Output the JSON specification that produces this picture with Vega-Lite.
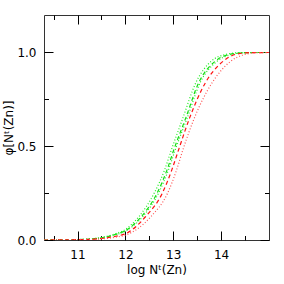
{
  "$schema": "https://vega.github.io/schema/vega-lite/v6.json",
  "width": 225,
  "height": 225,
  "autosize": {"type": "none"},
  "padding": {"left": 44, "top": 15, "right": 15, "bottom": 44},
  "config": {
    "view": {"stroke": "#333333", "strokeWidth": 1},
    "axis": {"domain": false, "grid": false, "ticks": true, "tickWidth": 1, "tickColor": "#000000", "labelColor": "#000000", "titleColor": "#000000", "labelFont": "DejaVu Sans", "titleFont": "DejaVu Sans", "labelFontSize": 12, "titleFontSize": 12, "titleFontWeight": "normal", "labelOverlap": false}
  },
  "data": {"values": [
    {"s":"gdotL","x":10.3,"y":0},{"s":"gdotL","x":10.8,"y":0.001},{"s":"gdotL","x":11.2,"y":0.005},{"s":"gdotL","x":11.5,"y":0.014},{"s":"gdotL","x":11.8,"y":0.034},{"s":"gdotL","x":12.0,"y":0.056},{"s":"gdotL","x":12.28,"y":0.124},{"s":"gdotL","x":12.6,"y":0.249},{"s":"gdotL","x":12.82,"y":0.374},{"s":"gdotL","x":12.96,"y":0.48},{"s":"gdotL","x":13.2,"y":0.65},{"s":"gdotL","x":13.47,"y":0.838},{"s":"gdotL","x":13.8,"y":0.955},{"s":"gdotL","x":14.1,"y":0.99},{"s":"gdotL","x":14.4,"y":0.999},{"s":"gdotL","x":14.7,"y":1},{"s":"gdotL","x":15,"y":1},
    {"s":"gdash","x":10.3,"y":0},{"s":"gdash","x":10.8,"y":0.001},{"s":"gdash","x":11.2,"y":0.004},{"s":"gdash","x":11.5,"y":0.012},{"s":"gdash","x":11.8,"y":0.03},{"s":"gdash","x":12.0,"y":0.05},{"s":"gdash","x":12.33,"y":0.124},{"s":"gdash","x":12.66,"y":0.249},{"s":"gdash","x":12.87,"y":0.374},{"s":"gdash","x":13.01,"y":0.48},{"s":"gdash","x":13.26,"y":0.65},{"s":"gdash","x":13.53,"y":0.838},{"s":"gdash","x":13.86,"y":0.95},{"s":"gdash","x":14.1,"y":0.985},{"s":"gdash","x":14.43,"y":0.998},{"s":"gdash","x":14.7,"y":1},{"s":"gdash","x":15,"y":1},
    {"s":"gdotR","x":10.3,"y":0},{"s":"gdotR","x":10.8,"y":0.001},{"s":"gdotR","x":11.2,"y":0.004},{"s":"gdotR","x":11.5,"y":0.011},{"s":"gdotR","x":11.8,"y":0.028},{"s":"gdotR","x":12.0,"y":0.047},{"s":"gdotR","x":12.36,"y":0.124},{"s":"gdotR","x":12.69,"y":0.249},{"s":"gdotR","x":12.9,"y":0.374},{"s":"gdotR","x":13.04,"y":0.48},{"s":"gdotR","x":13.29,"y":0.65},{"s":"gdotR","x":13.56,"y":0.838},{"s":"gdotR","x":13.9,"y":0.95},{"s":"gdotR","x":14.15,"y":0.985},{"s":"gdotR","x":14.45,"y":0.998},{"s":"gdotR","x":14.7,"y":1},{"s":"gdotR","x":15,"y":1},
    {"s":"rdash","x":10.3,"y":0},{"s":"rdash","x":10.8,"y":0.001},{"s":"rdash","x":11.2,"y":0.003},{"s":"rdash","x":11.5,"y":0.008},{"s":"rdash","x":11.8,"y":0.02},{"s":"rdash","x":12.0,"y":0.033},{"s":"rdash","x":12.42,"y":0.124},{"s":"rdash","x":12.77,"y":0.249},{"s":"rdash","x":12.97,"y":0.374},{"s":"rdash","x":13.11,"y":0.48},{"s":"rdash","x":13.34,"y":0.65},{"s":"rdash","x":13.67,"y":0.838},{"s":"rdash","x":14.04,"y":0.953},{"s":"rdash","x":14.3,"y":0.99},{"s":"rdash","x":14.6,"y":0.999},{"s":"rdash","x":15,"y":1},
    {"s":"rdot","x":10.3,"y":0},{"s":"rdot","x":11.0,"y":0.001},{"s":"rdot","x":11.5,"y":0.006},{"s":"rdot","x":11.8,"y":0.015},{"s":"rdot","x":12.0,"y":0.026},{"s":"rdot","x":12.53,"y":0.124},{"s":"rdot","x":12.88,"y":0.249},{"s":"rdot","x":13.07,"y":0.374},{"s":"rdot","x":13.2,"y":0.48},{"s":"rdot","x":13.44,"y":0.65},{"s":"rdot","x":13.81,"y":0.838},{"s":"rdot","x":14.2,"y":0.953},{"s":"rdot","x":14.5,"y":0.99},{"s":"rdot","x":14.8,"y":0.999},{"s":"rdot","x":15,"y":1}
  ]},
  "layer": [
    {
      "mark": {"type": "line", "interpolate": "monotone", "strokeWidth": 1.2, "clip": true},
      "encoding": {
        "x": {"field": "x", "type": "quantitative", "scale": {"domain": [10.3, 15], "nice": false, "zero": false},
          "axis": {"orient": "bottom", "title": "log Nᵗ(Zn)", "values": [10.5, 11, 11.5, 12, 12.5, 13, 13.5, 14, 14.5],
            "labelExpr": "datum.value % 1 === 0 ? format(datum.value, '.0f') : ''",
            "tickSize": {"condition": {"test": "datum.value % 1 === 0", "value": -9}, "value": -4.5},
            "labelPadding": 18, "titleY": 29, "titleBaseline": "middle", "titleAlign": "center"}},
        "y": {"field": "y", "type": "quantitative", "scale": {"domain": [0, 1.2], "nice": false},
          "axis": {"orient": "left", "title": "φ[Nᵗ(Zn)]", "values": [0, 0.25, 0.5, 0.75, 1.0],
            "labelExpr": "(datum.value * 2) % 1 === 0 ? format(datum.value, '.1f') : ''",
            "tickSize": {"condition": {"test": "(datum.value * 2) % 1 === 0", "value": -9}, "value": -4.5},
            "labelPadding": 17, "titleX": -36, "titleBaseline": "middle", "titleAlign": "center"}},
        "detail": {"field": "s"},
        "color": {"field": "s", "type": "nominal", "legend": null,
          "scale": {"domain": ["gdotL", "gdash", "gdotR", "rdash", "rdot"], "range": ["#22ee22", "#11dd11", "#22ee22", "#ff1111", "#ff5555"]}},
        "strokeDash": {"field": "s", "type": "nominal", "legend": null,
          "scale": {"domain": ["gdotL", "gdash", "gdotR", "rdash", "rdot"], "range": [[1, 2], [4, 3], [1, 2], [4, 3], [1, 2]]}}
      }
    },
    {
      "mark": {"type": "line", "opacity": 0},
      "encoding": {
        "x": {"field": "x", "type": "quantitative",
          "axis": {"orient": "top", "title": null, "labels": false, "values": [10.5, 11, 11.5, 12, 12.5, 13, 13.5, 14, 14.5],
            "tickSize": {"condition": {"test": "datum.value % 1 === 0", "value": -9}, "value": -4.5}}},
        "y": {"field": "y", "type": "quantitative",
          "axis": {"orient": "right", "title": null, "labels": false, "values": [0, 0.25, 0.5, 0.75, 1.0],
            "tickSize": {"condition": {"test": "(datum.value * 2) % 1 === 0", "value": -9}, "value": -4.5}}},
        "detail": {"field": "s"}
      }
    }
  ]
}
